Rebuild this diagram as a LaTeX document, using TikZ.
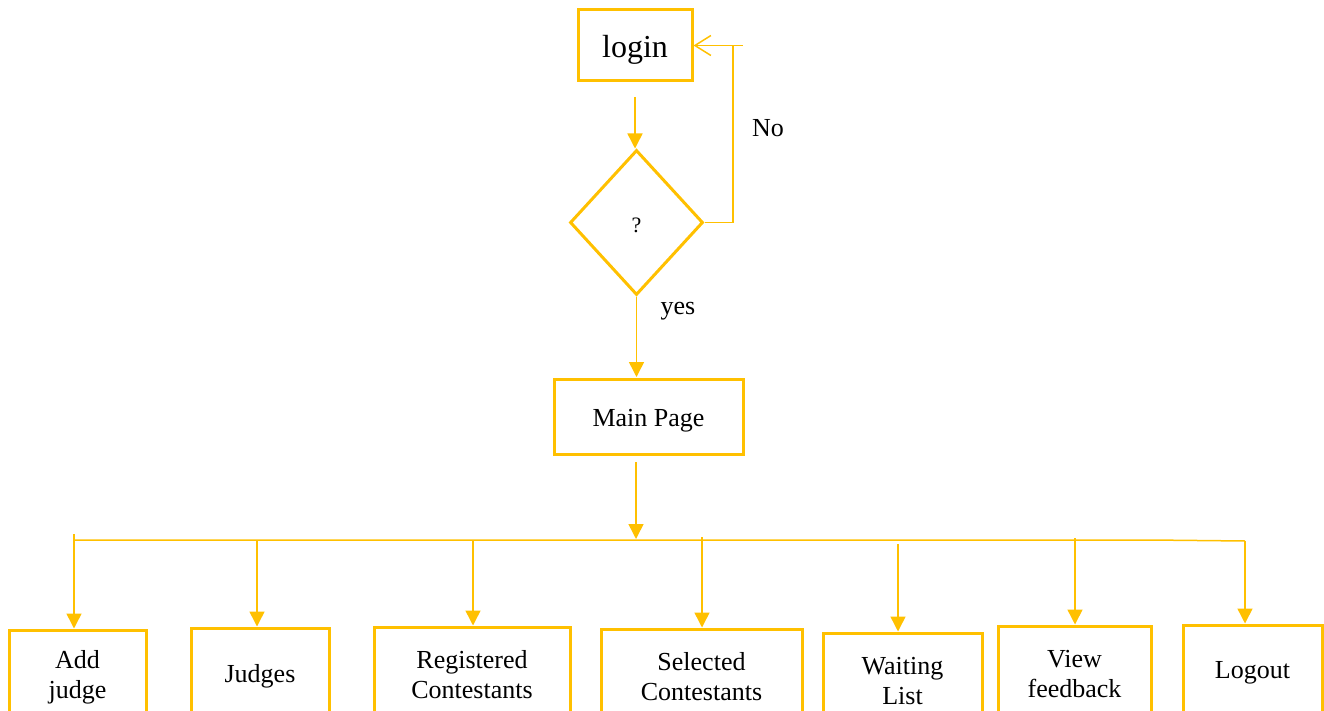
\documentclass[tikz,border=0pt]{standalone}
\usepackage{fontspec}
\setmainfont{Liberation Serif}
\usetikzlibrary{arrows.meta,shapes.geometric}
\definecolor{gold}{HTML}{FFC000}
\begin{document}
\begin{tikzpicture}[x=1pt,y=-1pt,
  box/.style={draw=gold,line width=3pt,rectangle,inner sep=0pt},
  txt/.style={inner sep=0pt,align=center,yshift=-4pt,font=\fontsize{26}{30}\selectfont},
  conn/.style={draw=gold,line width=1.5pt},
  arr/.style={conn,-{Triangle[width=15pt,length=15pt]}},
  openarr/.style={conn,-{Straight Barb[width=20pt,length=16pt,line width=1.5pt]}},
  lbl/.style={font=\fontsize{26}{30}\selectfont,inner sep=0pt}]
\useasboundingbox (0,0) rectangle (1324,711);
\clip (0,0) rectangle (1324,711);

% top part
\node[box,minimum width=114pt,minimum height=71pt,
  label={[txt,font=\fontsize{32}{36}\selectfont]center:login}] (login) at (635,45.5) {};
\node[draw=gold,line width=3pt,diamond,inner sep=0pt,minimum width=133pt,minimum height=145pt,
  label={[txt,yshift=1pt,font=\fontsize{22}{26}\selectfont]center:?}] (d) at (636.5,222.5) {};
\node[box,minimum width=189pt,minimum height=75pt,
  label={[txt]center:Main Page}] (main) at (648.5,416.5) {};

\node[lbl] (no) at (768,128) {No};
\node[lbl] (yes) at (678,311) {yes};

% bottom boxes
\node[box,minimum width=137pt,minimum height=86pt,label={[txt]center:Add\\judge}] (aj) at (77.5,673) {};
\node[box,minimum width=138pt,minimum height=88pt,label={[txt]center:Judges}] (jd) at (260,672) {};
\node[box,minimum width=196pt,minimum height=88pt,label={[txt]center:Registered\\Contestants}] (rc) at (472,671) {};
\node[box,minimum width=201pt,minimum height=88pt,label={[txt]center:Selected\\Contestants}] (sc) at (701.5,673) {};
\node[box,minimum width=159pt,minimum height=88pt,label={[txt]center:Waiting\\List}] (wl) at (902.5,677) {};
\node[box,minimum width=153pt,minimum height=88pt,label={[txt]center:View\\feedback}] (vf) at (1074.5,670) {};
\node[box,minimum width=139pt,minimum height=88pt,label={[txt]center:Logout}] (lo) at (1252.5,669) {};

% connectors
\coordinate (loginout) at (635,97);
\draw[arr] (loginout) -- (635,0 |- d.north);

\coordinate (nocorner) at (733,222.5);
\coordinate (notop) at (733,45.5);
\coordinate (nostub) at (743,45.5);
\draw[conn] (d.east) -- (nocorner) -- (notop);
\draw[openarr] (nostub) -- (login.east);

\coordinate (din) at (636.5,377);
\draw[arr] (d.south) -- (din);

\coordinate (mainout) at (636,462);
\coordinate (busin) at (636,539);
\draw[arr] (mainout) -- (busin);

\coordinate (busL) at (75,540);
\coordinate (busM) at (1150,540);
\coordinate (busR) at (1245,541);
\draw[conn] (busL) -- (busM) -- (busR);

\draw[arr] (74,534) -- (74,0 |- aj.north);
\draw[arr] (257,540) -- (257,0 |- jd.north);
\draw[arr] (473,540) -- (473,0 |- rc.north);
\draw[arr] (702,537) -- (702,0 |- sc.north);
\draw[arr] (898,544) -- (898,0 |- wl.north);
\draw[arr] (1075,538) -- (1075,0 |- vf.north);
\draw[arr] (busR) -- (1245,0 |- lo.north);
\end{tikzpicture}
\end{document}
